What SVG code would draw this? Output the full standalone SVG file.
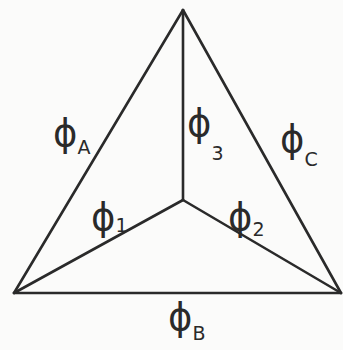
<svg xmlns="http://www.w3.org/2000/svg" width="343" height="350" viewBox="0 0 343 350">
<style>
.edge{stroke:#2a2a2a;stroke-width:2.6;stroke-linecap:round;fill:none}
.lbl{font-family:"DejaVu Sans","Liberation Sans",sans-serif;fill:#2a2a2a;font-size:37px}
.sub{font-size:19px}
</style>
<rect width="343" height="350" fill="#fbfbfa"/>
<g id="connectors">
<line class="edge" x1="183" y1="10" x2="14" y2="293"/>
<line class="edge" x1="183" y1="10" x2="341" y2="293"/>
<line class="edge" x1="14" y1="293" x2="341" y2="293"/>
<line class="edge" x1="183" y1="10" x2="183" y2="200"/>
<line class="edge" x1="183" y1="200" x2="14" y2="293"/>
<line class="edge" x1="183" y1="200" x2="341" y2="293"/>
</g>
<g id="node-top"></g>
<g id="node-left"></g>
<g id="node-right"></g>
<g id="node-center"></g>
<g id="labels">
<text class="lbl" x="53" y="146">ϕ<tspan class="sub" dy="8">A</tspan></text>
<text class="lbl" x="187" y="136">ϕ<tspan class="sub" dy="24">3</tspan></text>
<text class="lbl" x="280" y="152">ϕ<tspan class="sub" dy="14">C</tspan></text>
<text class="lbl" x="91" y="230">ϕ<tspan class="sub" dy="2">1</tspan></text>
<text class="lbl" x="228" y="230">ϕ<tspan class="sub" dy="6">2</tspan></text>
<text class="lbl" x="168" y="330">ϕ<tspan class="sub" dy="10">B</tspan></text>
</g>
</svg>
